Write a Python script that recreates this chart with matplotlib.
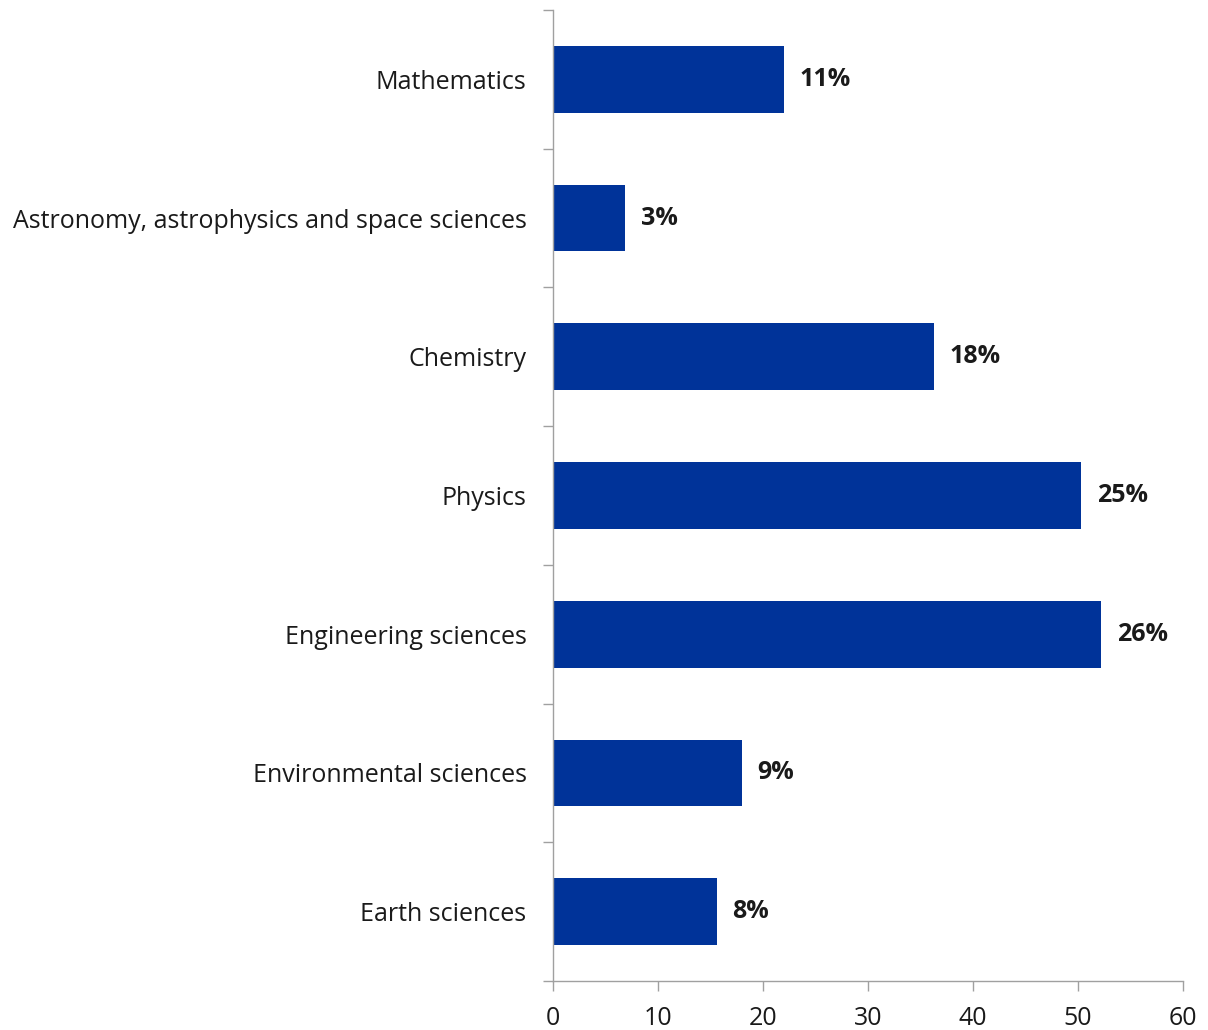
import matplotlib.pyplot as plt
from matplotlib.ticker import FixedLocator

categories = [
    "Mathematics",
    "Astronomy, astrophysics and space sciences",
    "Chemistry",
    "Physics",
    "Engineering sciences",
    "Environmental sciences",
    "Earth sciences",
]
values = [22.0, 6.9, 36.3, 50.3, 52.2, 18.0, 15.6]
labels = ["11%", "3%", "18%", "25%", "26%", "9%", "8%"]
x_ticks = [0, 10, 20, 30, 40, 50, 60]

plt.rcParams["font.family"] = ["Open Sans", "DejaVu Sans"]

fig = plt.figure(figsize=(12.08, 10.30), dpi=100)
ax = fig.add_axes([553 / 1208, 49 / 1030, 630 / 1208, 971 / 1030])

pos = list(range(len(categories)))
ax.barh(pos, values, height=0.48, color="#003399", edgecolor="none")

for y, v, lab in zip(pos, values, labels):
    ax.text(v + 1.5, y, lab, va="center", ha="left", fontsize=18,
            fontweight="bold", color="#1a1a1a")

ax.set_xlim(0, 60)
ax.set_ylim(len(categories) - 0.5, -0.5)
ax.set_xticks(x_ticks)
ax.set_yticks(pos)
ax.set_yticklabels(categories, fontsize=18, color="#1a1a1a")
ax.yaxis.set_minor_locator(FixedLocator([i - 0.5 for i in range(len(categories) + 1)]))
ax.tick_params(axis="y", which="major", length=0, pad=19)
ax.tick_params(axis="y", which="minor", length=7, color="#a0a0a0", width=1)
ax.tick_params(axis="x", length=7, color="#a0a0a0", width=1, labelsize=18,
               labelcolor="#1a1a1a", pad=11)

for s in ["top", "right"]:
    ax.spines[s].set_visible(False)
for s in ["left", "bottom"]:
    ax.spines[s].set_color("#a0a0a0")
    ax.spines[s].set_linewidth(1)

fig.savefig("out.png", dpi=100)
